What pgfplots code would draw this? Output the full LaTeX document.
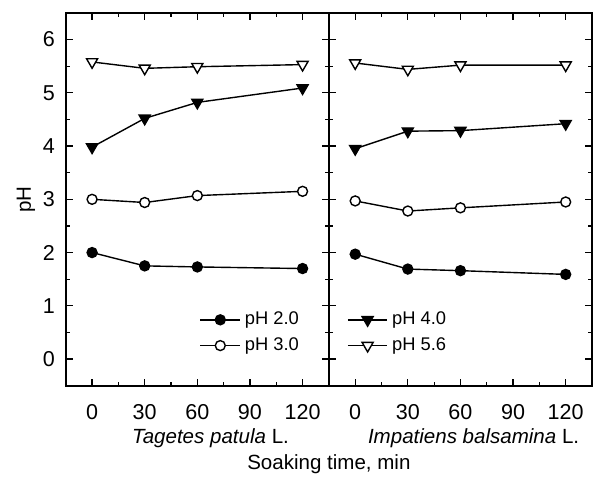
\documentclass[border=0pt]{standalone}
\usepackage{fontspec}
\setmainfont{Liberation Sans}
\usepackage{pgfplots}
\pgfplotsset{compat=1.18}
\begin{document}
\begin{tikzpicture}
  \pgfplotsset{
    panel/.style={
      width=132pt, height=187pt, scale only axis,
      xmin=-15, xmax=135, ymin=-0.5, ymax=6.5,
      xtick={0,30,60,90,120}, minor xtick={15,45,75,105},
      ytick={0,1,...,6}, minor ytick={-0.5,0.5,...,6.5},
      tick align=inside,
      major tick length=3.5pt, minor tick length=2pt,
      tick style={black, line width=0.6pt},
      axis line style={line width=0.9pt},
      font=\fontsize{10.3}{12}\selectfont,
      tick label style={font=\fontsize{10.8}{12}\selectfont},
      /pgf/number format/assume math mode=true,
      xticklabel style={yshift=-6pt},
      xlabel style={at={(axis description cs:0.55,0)}, anchor=center, yshift=-26.5pt},
      legend style={draw=none, fill=none, font=\fontsize{9.2}{10.5}\selectfont,
                    row sep=1pt, inner sep=1pt},
      legend cell align=left,
      legend image code/.code={
        \draw[mark repeat=2, mark phase=2, ##1]
          plot coordinates {(0cm,0cm)(0.35cm,0cm)(0.7cm,0cm)};},
      clip=false,
    },
    ph20/.style={black, line width=0.7pt, mark=*, mark size=2.5pt,
                 mark options={fill=black, solid}},
    ph30/.style={black, line width=0.7pt, mark=*, mark size=2.5pt,
                 mark options={fill=white, solid}},
    ph40/.style={black, line width=0.7pt, mark=triangle*, mark size=3.2pt,
                 mark options={fill=black, rotate=180, solid}},
    ph56/.style={black, line width=0.7pt, mark=triangle*, mark size=3.2pt,
                 mark options={fill=white, rotate=180, solid}},
  }

  %% Tagetes patula
  \begin{axis}[
    panel, name=L,
    ylabel={pH},
    ylabel style={yshift=-3pt},
    yticklabel style={xshift=-2pt},
    xlabel={\textit{Tagetes patula} L.},
    legend style={at={(0.5,0.215)}, anchor=north west},
  ]
    \addplot[ph20] coordinates {(0,2.00)(30,1.75)(60,1.73)(120,1.70)};
    \addlegendentry{pH 2.0}
    \addplot[ph30] coordinates {(0,3.00)(30,2.94)(60,3.07)(120,3.15)};
    \addlegendentry{pH 3.0}
    \addplot[ph40, forget plot] coordinates {(0,3.98)(30,4.52)(60,4.82)(120,5.09)};
    \addplot[ph56, forget plot] coordinates {(0,5.58)(30,5.46)(60,5.49)(120,5.53)};
    \node at (rel axis cs:1,0) [yshift=-39.5pt] {Soaking time, min};
  \end{axis}

  %% Impatiens balsamina
  \begin{axis}[
    panel, name=R,
    at={(L.south east)}, anchor=south west,
    yticklabels={},
    xlabel={\textit{Impatiens balsamina} L.},
    legend style={at={(0.06,0.215)}, anchor=north west},
  ]
    \addplot[ph40] coordinates {(0,3.95)(30,4.28)(60,4.29)(120,4.42)};
    \addlegendentry{pH 4.0}
    \addplot[ph56] coordinates {(0,5.56)(30,5.44)(60,5.52)(120,5.52)};
    \addlegendentry{pH 5.6}
    \addplot[ph20, forget plot] coordinates {(0,1.97)(30,1.69)(60,1.66)(120,1.59)};
    \addplot[ph30, forget plot] coordinates {(0,2.97)(30,2.78)(60,2.84)(120,2.95)};
  \end{axis}

  \path ([xshift=-33pt,yshift=-48.5pt]L.south west)
    rectangle ([xshift=0.5pt,yshift=6.5pt]R.north east);
\end{tikzpicture}
\end{document}
